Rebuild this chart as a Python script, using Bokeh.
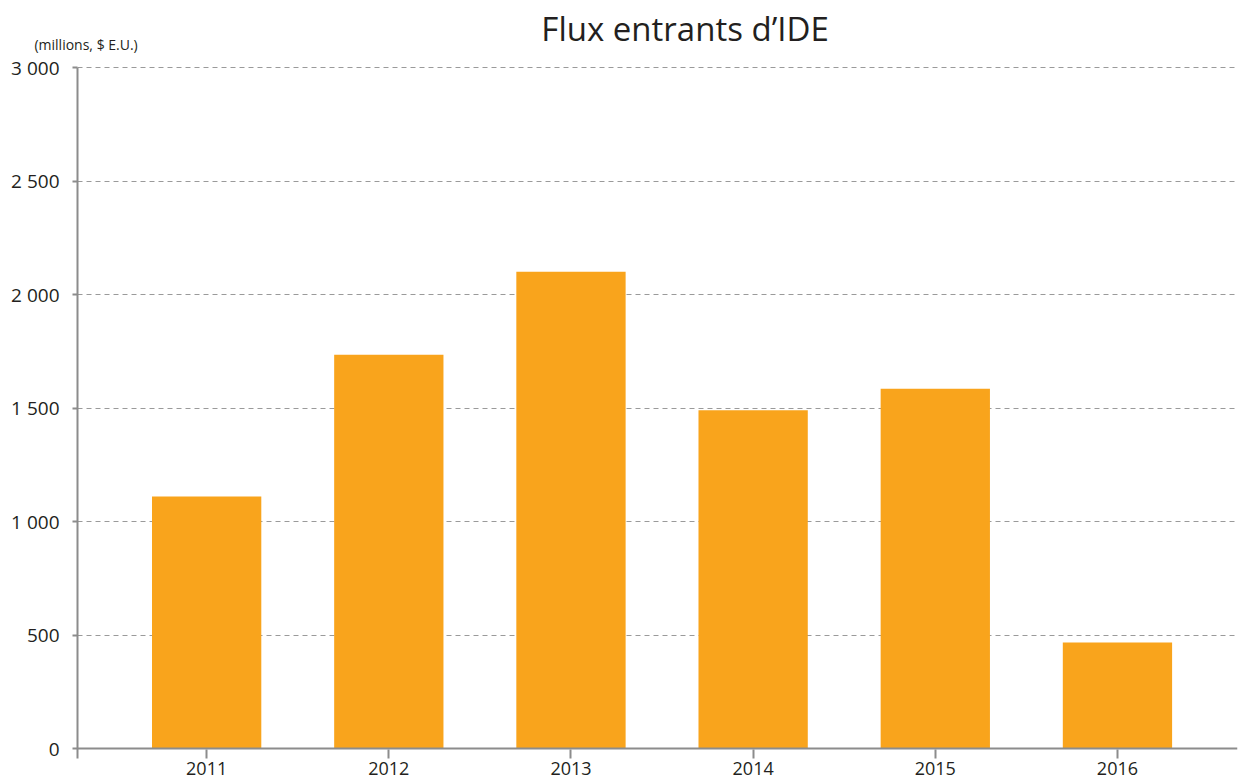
from bokeh.plotting import figure
from bokeh.models import FixedTicker, Span, Range1d, Label
from bokeh.embed import file_html
from bokeh.resources import INLINE

years = ["2011", "2012", "2013", "2014", "2015", "2016"]
values = [1110, 1735, 2100, 1490, 1585, 467]
y_ticks = [0, 500, 1000, 1500, 2000, 2500, 3000]
y_tick_labels = ["0", "500", "1 000", "1 500", "2 000", "2 500", "3 000"]
title_text = "Flux entrants d\u2019IDE"
unit_text = "(millions, $ E.U.)"

xs = list(range(len(years)))
FONT = "Open Sans"
GRAY = "#8c8c8c"
TXT = "#231f20"

# layout constants (pixels)
PX_PER_CAT = 182.0
PX_PER_UNIT = 681.0 / 3000.0
X0, X1 = -0.709, 5.659
Y0 = -44
Y1 = 3000 + 67 / PX_PER_UNIT   # room above the value axis for title and unit note

p = figure(frame_width=1160, frame_height=758, output_backend="svg", toolbar_location=None,
           x_range=Range1d(X0, X1), y_range=Range1d(Y0, Y1),
           min_border_left=77, min_border_right=3, min_border_top=0, min_border_bottom=25)
p.outline_line_color = None
p.background_fill_color = "white"

p.vbar(x=xs, top=values, width=0.6, bottom=0, color="#f9a41c", line_color=None)

p.add_layout(Span(location=0, dimension="width", line_color=GRAY, line_width=2))

# title (inside the frame area) and unit note (side panel, so it is not clipped)
p.add_layout(Label(x=X0 + (684 - 77) / PX_PER_CAT, y=3000 + 39 / PX_PER_UNIT,
                   text=title_text, text_font=FONT, text_font_size="33px",
                   text_color=TXT, text_align="center", text_baseline="middle"))
p.add_layout(Label(x=X0 - 43 / PX_PER_CAT, y=3000 + 23 / PX_PER_UNIT,
                   text=unit_text, text_font=FONT, text_font_size="14px",
                   text_color=TXT, text_align="left", text_baseline="middle"), "right")

# y axis
ya = p.yaxis[0]
ya.ticker = FixedTicker(ticks=y_ticks)
ya.bounds = (Y0, 3000)
ya.major_label_overrides = {t: l for t, l in zip(y_ticks, y_tick_labels)}
ya.axis_line_color = GRAY
ya.axis_line_width = 2
ya.major_tick_line_color = GRAY
ya.major_tick_line_width = 2
ya.major_tick_out = 5
ya.major_tick_in = 0
ya.minor_tick_line_color = None
ya.major_label_standoff = 13
ya.major_label_text_font = FONT
ya.major_label_text_font_size = "19px"
ya.major_label_text_color = TXT

# x axis
xa = p.xaxis[0]
xa.ticker = FixedTicker(ticks=xs)
xa.major_label_overrides = {x: y for x, y in zip(xs, years)}
xa.axis_line_color = None
xa.major_tick_line_color = GRAY
xa.major_tick_line_width = 2
xa.major_tick_in = 9
xa.major_tick_out = 0
xa.minor_tick_line_color = None
xa.major_label_standoff = 3
xa.major_label_text_font = FONT
xa.major_label_text_font_size = "18px"
xa.major_label_text_color = TXT

p.xgrid.grid_line_color = None
p.ygrid.ticker = FixedTicker(ticks=y_ticks[1:])
p.ygrid.grid_line_color = "#9a9a9a"
p.ygrid.grid_line_dash = "5 4"
p.ygrid.grid_line_width = 1

open("out.html", "w").write(file_html(p, INLINE))
